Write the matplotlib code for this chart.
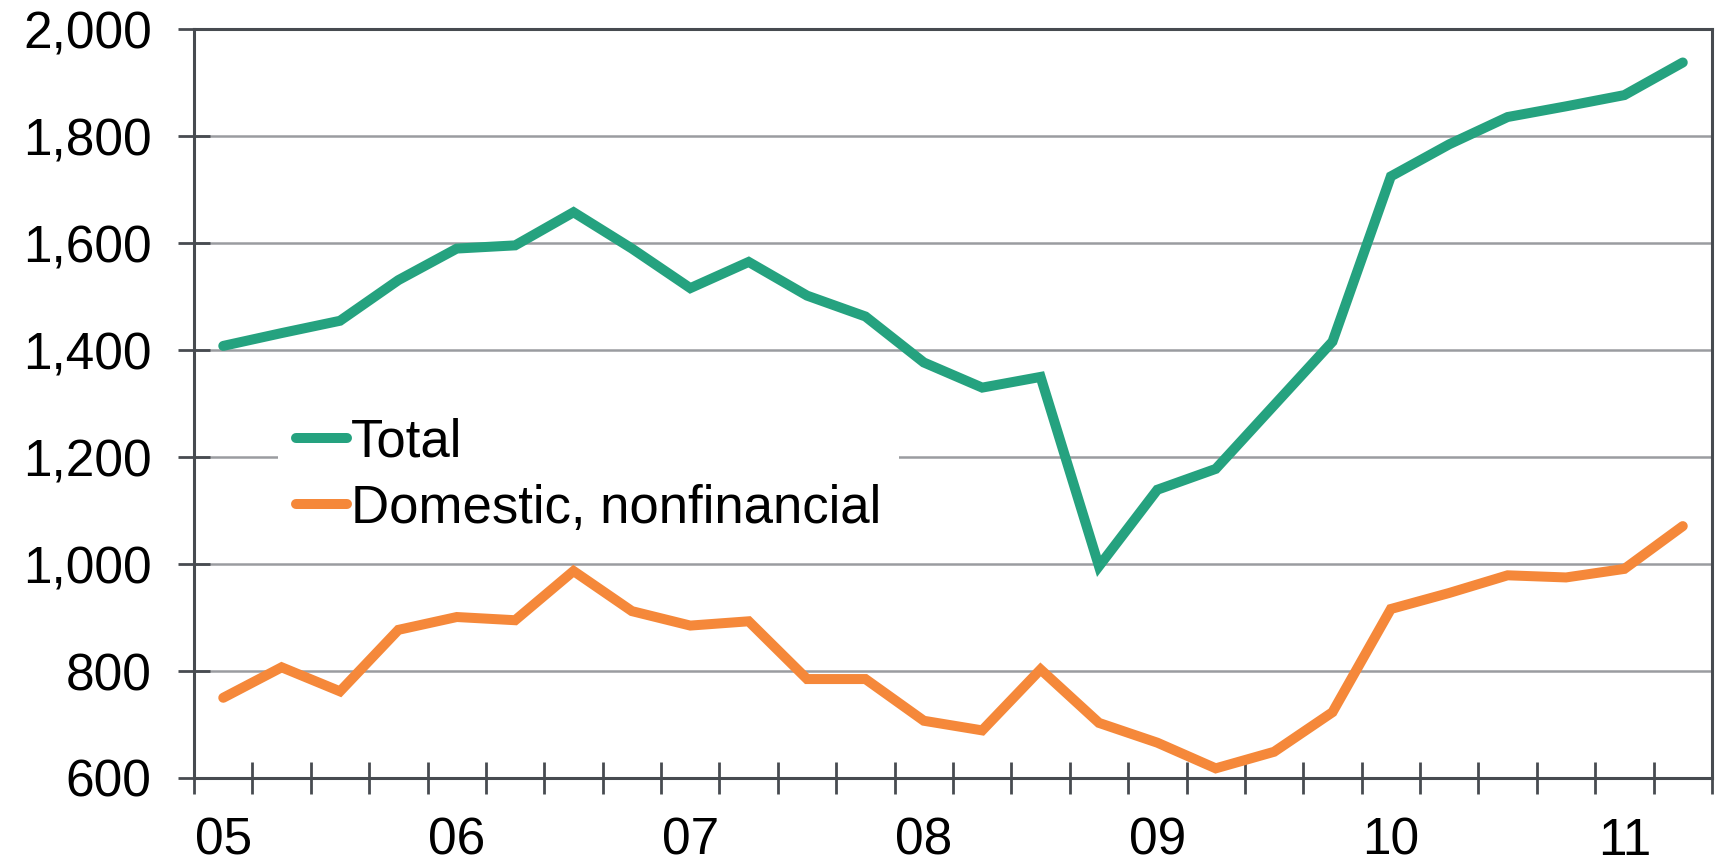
import matplotlib.pyplot as plt
from matplotlib.ticker import FixedLocator, FuncFormatter

""" DATA """
total = [1408, 1432, 1455, 1531, 1590, 1596, 1658, 1590, 1516, 1565,
         1502, 1463, 1377, 1330, 1350, 996, 1139, 1178, 1297, 1416,
         1725, 1785, 1836, 1856, 1877, 1938]
domestic = [750, 807, 762, 877, 901, 895, 987, 912, 885, 893,
            785, 785, 707, 689, 803, 703, 666, 618, 649, 723,
            916, 946, 979, 975, 991, 1071]
year_labels = ['05', '06', '07', '08', '09', '10', '11']
series_names = ['Total', 'Domestic, nonfinancial']

GREEN = '#25a27f'
ORANGE = '#f5883a'
DARK = '#474b50'

plt.rcParams['font.family'] = ['Liberation Sans', 'DejaVu Sans']

fig = plt.figure(figsize=(17.19, 8.65), dpi=100)
ax = fig.add_axes([0.1129, 0.1006, 0.883, 0.8655])

x = list(range(len(total)))
ax.plot(x, total, color=GREEN, lw=7.2, solid_capstyle='round', solid_joinstyle='miter', label=series_names[0])
ax.plot(x, domestic, color=ORANGE, lw=7.2, solid_capstyle='round', solid_joinstyle='miter', label=series_names[1])

ax.set_xlim(-0.5, len(total) - 0.5)
ax.set_ylim(600, 2000)
ax.set_yticks(range(600, 2001, 200))
ax.yaxis.set_major_formatter(FuncFormatter(lambda v, p: f'{v:,.0f}'))
ax.yaxis.grid(True, color='#9a9ca0', lw=1.8)
ax.set_axisbelow(True)

ax.xaxis.set_major_locator(FixedLocator([4 * i for i in range(len(year_labels))]))
ax.set_xticklabels(year_labels)
ax.xaxis.set_minor_locator(FixedLocator([i - 0.5 for i in range(len(total) + 1)]))
ax.tick_params(axis='x', which='major', length=0, pad=28, labelsize=37)
ax.tick_params(axis='x', which='minor', direction='inout', length=23, width=2, color=DARK)
ax.tick_params(axis='y', direction='inout', length=23, width=2, color=DARK, pad=19, labelsize=37)

for s in ax.spines.values():
    s.set_color(DARK)
    s.set_linewidth(2.2)

leg = ax.legend(loc='upper left', bbox_to_anchor=(0.055, 0.505), borderaxespad=0, fontsize=38,
                frameon=True, fancybox=False, edgecolor='white', framealpha=1, handlelength=0.97,
                handletextpad=0.08, labelspacing=0.3, borderpad=0.34)
leg.get_frame().set_linewidth(0)

fig.savefig('out.png', dpi=100)
